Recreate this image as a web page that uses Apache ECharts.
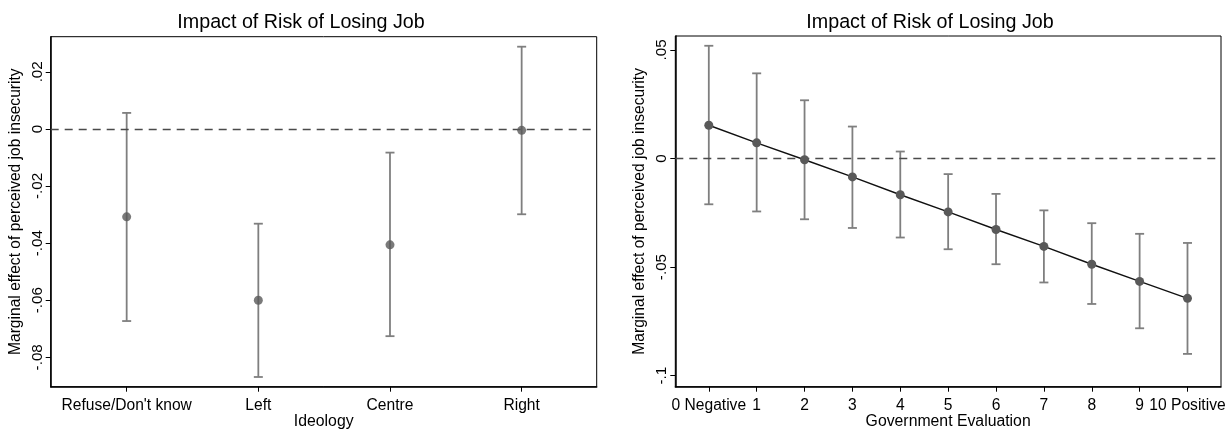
<!DOCTYPE html>
<html>
<head>
<meta charset="utf-8">
<script src="https://cdn.jsdelivr.net/npm/echarts@6/dist/echarts.min.js"></script>
<style>
html,body{margin:0;padding:0;background:#fff;}
#chart{width:1231px;height:430px;}
</style>
</head>
<body>
<div id="chart"></div>
<script>
// ---- Left panel: Ideology ----
const ideologyCats = ["Refuse/Don't know", "Left", "Centre", "Right"];
const ideologyPos = [1, 2, 3, 4];
const ideologyEst = [-0.0308, -0.0600, -0.0406, -0.0005];
const ideologyLow = [-0.0673, -0.0869, -0.0726, -0.0299];
const ideologyHigh = [0.0056, -0.0332, -0.0083, 0.0288];
const leftYTicks = [-0.08, -0.06, -0.04, -0.02, 0, 0.02];
const leftYLabels = ["-.08", "-.06", "-.04", "-.02", "0", ".02"];

// ---- Right panel: Government Evaluation ----
const govPos = [0, 1, 2, 3, 4, 5, 6, 7, 8, 9, 10];
const govLabels = ["0 Negative", "1", "2", "3", "4", "5", "6", "7", "8", "9", "10 Positive"];
const govEst = [0.0153, 0.0072, -0.0006, -0.0085, -0.0167, -0.0246, -0.0327, -0.0405, -0.0487, -0.0566, -0.0644];
const govLow = [-0.0211, -0.0244, -0.0280, -0.0320, -0.0364, -0.0418, -0.0487, -0.0571, -0.0670, -0.0782, -0.0900];
const govHigh = [0.0519, 0.0392, 0.0268, 0.0147, 0.0032, -0.0072, -0.0163, -0.0239, -0.0298, -0.0347, -0.0389];
const rightYTicks = [-0.1, -0.05, 0, 0.05];
const rightYLabels = ["-.1", "-.05", "0", ".05"];

const titleText = "Impact of Risk of Losing Job";
const yName = "Marginal effect of perceived job insecurity";
const FONT = "'Liberation Sans', Arial, sans-serif";

const chart = echarts.init(document.getElementById('chart'), null, {renderer: 'canvas'});

function errBarItem(params, api) {
  const x = api.value(0);
  const lo = api.coord([x, api.value(1)]);
  const hi = api.coord([x, api.value(2)]);
  const cap = 4.5;
  const st = {stroke: '#7f7f7f', lineWidth: 1.8};
  return {
    type: 'group',
    children: [
      {type: 'line', shape: {x1: lo[0], y1: lo[1], x2: hi[0], y2: hi[1]}, style: st},
      {type: 'line', shape: {x1: lo[0] - cap, y1: lo[1], x2: lo[0] + cap, y2: lo[1]}, style: st},
      {type: 'line', shape: {x1: hi[0] - cap, y1: hi[1], x2: hi[0] + cap, y2: hi[1]}, style: st}
    ]
  };
}

function xAxisCfg(gridIndex, min, max, pos, fmt, name) {
  return {
    type: 'value', gridIndex, min, max,
    name, nameLocation: 'middle', nameGap: 27, nameMoveOverlap: false,
    nameTextStyle: {fontFamily: FONT, fontSize: 15.8, color: '#000'},
    axisLine: {show: true, onZero: false, lineStyle: {color: '#000', width: 1.5}},
    axisTick: {show: true, customValues: pos, length: 5, lineStyle: {color: '#000', width: 1}},
    axisLabel: {customValues: pos, formatter: fmt, margin: 11, fontFamily: FONT, fontSize: 15.6, color: '#000'},
    splitLine: {show: false}
  };
}

function yAxisCfg(gridIndex, min, max, ticks, labels, margin, nameGap) {
  return {
    type: 'value', gridIndex, min, max,
    name: yName, nameLocation: 'middle', nameGap, nameMoveOverlap: false,
    nameTextStyle: {fontFamily: FONT, fontSize: 15.6, color: '#000'},
    axisLine: {show: true, onZero: false, lineStyle: {color: '#000', width: 1.5}},
    axisTick: {show: true, customValues: ticks, length: 5, lineStyle: {color: '#000', width: 1}},
    axisLabel: {
      customValues: ticks, rotate: 90, margin,
      formatter: v => { const i = ticks.findIndex(t => Math.abs(t - v) < 1e-9); return i >= 0 ? labels[i] : ''; },
      fontFamily: FONT, fontSize: 15.2, color: '#000'
    },
    splitLine: {show: false}
  };
}

const zeroLine = {
  silent: true, symbol: 'none', label: {show: false},
  lineStyle: {color: '#4a4a4a', type: [8, 6], width: 1.4},
  data: [{yAxis: 0}]
};

const option = {
  animation: false,
  backgroundColor: '#fff',
  graphic: [
    {type: 'text', x: 301, y: 23, style: {text: titleText, font: '19.7px ' + FONT, fill: '#000', textAlign: 'center', textVerticalAlign: 'middle'}},
    {type: 'text', x: 930, y: 23, style: {text: titleText, font: '19.7px ' + FONT, fill: '#000', textAlign: 'center', textVerticalAlign: 'middle'}}
  ],
  grid: [
    {left: 50.7, right: 634.3, top: 36.7, bottom: 43.3, outerBoundsMode: 'none', containLabel: false, show: true, borderColor: '#000', borderWidth: 1, backgroundColor: 'transparent'},
    {left: 675.3, right: 10, top: 36, bottom: 43.3, outerBoundsMode: 'none', containLabel: false, show: true, borderColor: '#000', borderWidth: 1, backgroundColor: 'transparent'}
  ],
  xAxis: [
    xAxisCfg(0, 0.423, 4.57, ideologyPos, v => ideologyCats[ideologyPos.indexOf(Math.round(v))] || '', 'Ideology'),
    xAxisCfg(1, -0.7, 10.7, govPos, v => govLabels[govPos.indexOf(Math.round(v))] || '', 'Government Evaluation')
  ],
  yAxis: [
    yAxisCfg(0, -0.0903, 0.0323, leftYTicks, leftYLabels, 5, 27),
    yAxisCfg(1, -0.1051, 0.0564, rightYTicks, rightYLabels, 6, 27.5)
  ],
  series: [
    {
      type: 'custom', xAxisIndex: 0, yAxisIndex: 0, z: 3,
      renderItem: errBarItem,
      data: ideologyPos.map((p, i) => [p, ideologyLow[i], ideologyHigh[i]]),
      markLine: zeroLine
    },
    {
      type: 'scatter', xAxisIndex: 0, yAxisIndex: 0, z: 5,
      symbol: 'circle', symbolSize: 9,
      itemStyle: {color: '#595959'},
      data: ideologyPos.map((p, i) => [p, ideologyEst[i]])
    },
    {
      type: 'custom', xAxisIndex: 1, yAxisIndex: 1, z: 3,
      renderItem: errBarItem,
      data: govPos.map((p, i) => [p, govLow[i], govHigh[i]]),
      markLine: zeroLine
    },
    {
      type: 'line', xAxisIndex: 1, yAxisIndex: 1, z: 5,
      symbol: 'circle', symbolSize: 9, showSymbol: true,
      lineStyle: {color: '#111', width: 1.4},
      itemStyle: {color: '#595959'},
      data: govPos.map((p, i) => [p, govEst[i]])
    }
  ]
};
chart.setOption(option);
</script>
</body>
</html>
